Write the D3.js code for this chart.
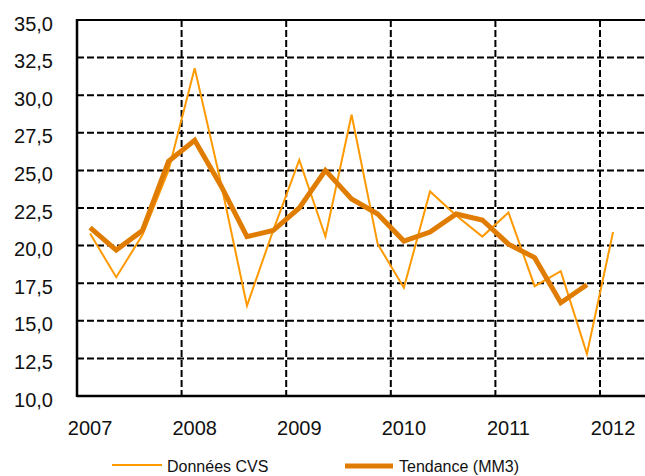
<!DOCTYPE html>
<html>
<head>
<meta charset="utf-8">
<script src="https://cdn.jsdelivr.net/npm/d3@7"></script>
<style>
  html, body { margin: 0; padding: 0; background: #fff; }
  svg { display: block; }
  text { font-family: "Liberation Sans", Arial, sans-serif; fill: #111; }
</style>
</head>
<body>
<div id="chart"></div>
<script>
// Quarterly periods (year, quarter index 0..3), 2007 Q1 .. 2012 Q1
const periods = [
  [2007,0],[2007,1],[2007,2],[2007,3],
  [2008,0],[2008,1],[2008,2],[2008,3],
  [2009,0],[2009,1],[2009,2],[2009,3],
  [2010,0],[2010,1],[2010,2],[2010,3],
  [2011,0],[2011,1],[2011,2],[2011,3],
  [2012,0]
];
const cvsValues = [20.8, 17.9, 20.7, 25.0, 31.8, 24.2, 16.0, 21.0, 25.7, 20.6, 28.7, 20.1, 17.2, 23.6, 22.0, 20.6, 22.2, 17.3, 18.3, 12.8, 20.9];
const trendValues = [21.2, 19.7, 21.0, 25.6, 27.0, 24.0, 20.6, 21.0, 22.5, 25.0, 23.1, 22.1, 20.3, 20.9, 22.1, 21.7, 20.1, 19.2, 16.2, 17.4];
const yearTicks = [2007, 2008, 2009, 2010, 2011, 2012];
const yTicks = [10, 12.5, 15, 17.5, 20, 22.5, 25, 27.5, 30, 32.5, 35];
const seriesNames = ["Données CVS", "Tendance (MM3)"];

(function () {
const W = 645, H = 476;
const mLeft = 77, mTop = 20, mBottom = 396;

const svg = d3.select("#chart").append("svg").attr("width", W).attr("height", H);

const x = d3.scaleLinear().domain([2007, 2012]).range([mLeft, 600]);
const y = d3.scaleLinear().domain([10, 35]).range([mBottom, mTop]);
const xEnd = W;

const tPos = p => p[0] + (p[1] + 0.5) / 4;

// Horizontal dashed grid lines
svg.append("g").selectAll("line").data(yTicks.filter(v => v > 10 && v < 35)).join("line")
  .attr("x1", mLeft).attr("x2", xEnd)
  .attr("y1", d => y(d)).attr("y2", d => y(d))
  .attr("stroke", "#000").attr("stroke-width", 2).attr("stroke-dasharray", "7,3");

// Vertical dashed grid lines
svg.append("g").selectAll("line").data(yearTicks.filter(v => v > 2007)).join("line")
  .attr("x1", d => x(d)).attr("x2", d => x(d))
  .attr("y1", mTop).attr("y2", mBottom)
  .attr("stroke", "#000").attr("stroke-width", 2).attr("stroke-dasharray", "7,3");

// Frame: top line, left axis, bottom axis
svg.append("line").attr("x1", mLeft).attr("x2", xEnd).attr("y1", y(35)).attr("y2", y(35))
  .attr("stroke", "#000").attr("stroke-width", 2);
svg.append("line").attr("x1", mLeft).attr("x2", xEnd).attr("y1", y(10)).attr("y2", y(10))
  .attr("stroke", "#000").attr("stroke-width", 2.5);
svg.append("line").attr("x1", mLeft).attr("x2", mLeft).attr("y1", y(35) - 1).attr("y2", y(10) + 1)
  .attr("stroke", "#000").attr("stroke-width", 2.5);

// Y labels
const fmt = v => d3.format(".1f")(v).replace(".", ",");
svg.append("g").selectAll("text").data(yTicks).join("text")
  .attr("x", 53).attr("y", d => y(d) + 10.5)
  .attr("text-anchor", "end").attr("font-size", 20)
  .text(fmt);

// X labels (centered under first quarter)
svg.append("g").selectAll("text").data(yearTicks).join("text")
  .attr("x", d => x(d + 0.125)).attr("y", 435)
  .attr("text-anchor", "middle").attr("font-size", 20)
  .text(d => d);

// Lines
const line = d3.line().x(d => x(tPos(d.p))).y(d => y(d.v));
const cvsData = periods.map((p, i) => ({p, v: cvsValues[i]}));
const trendData = trendValues.map((v, i) => ({p: periods[i], v}));

svg.append("path").datum(cvsData).attr("d", line)
  .attr("fill", "none").attr("stroke", "#FF9900").attr("stroke-width", 2)
  .attr("stroke-linejoin", "miter");
svg.append("path").datum(trendData).attr("d", line)
  .attr("fill", "none").attr("stroke", "#E07D00").attr("stroke-width", 5)
  .attr("stroke-linejoin", "miter");

// Legend
const lg = svg.append("g");
lg.append("line").attr("x1", 112).attr("x2", 162).attr("y1", 465).attr("y2", 465)
  .attr("stroke", "#FF9900").attr("stroke-width", 2);
lg.append("text").attr("x", 167).attr("y", 471.5).attr("font-size", 16).text(seriesNames[0]);
lg.append("line").attr("x1", 345).attr("x2", 393).attr("y1", 466).attr("y2", 466)
  .attr("stroke", "#E07D00").attr("stroke-width", 5);
lg.append("text").attr("x", 399).attr("y", 471.5).attr("font-size", 16).text(seriesNames[1]);
})();
</script>
</body>
</html>
